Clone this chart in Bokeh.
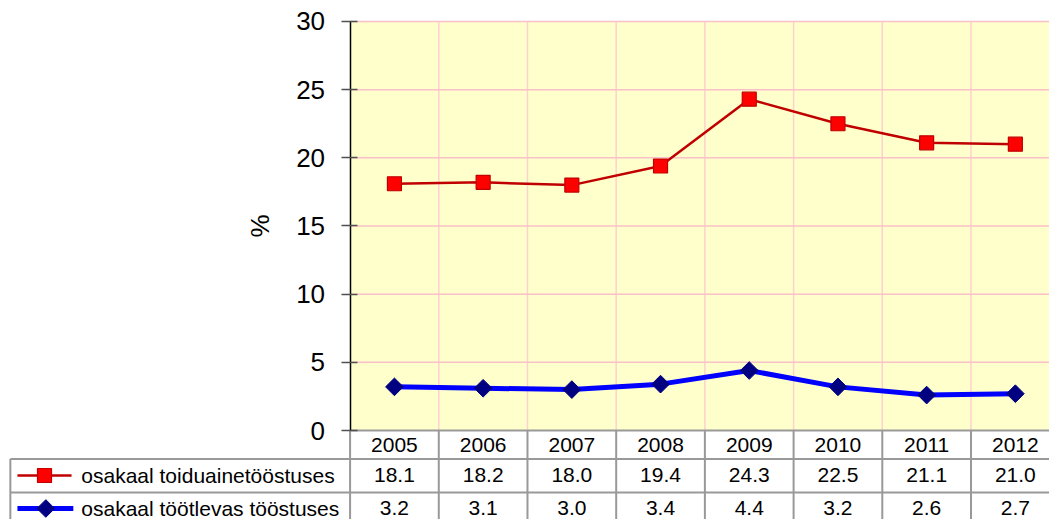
from bokeh.plotting import figure
from bokeh.models import LinearAxis, FixedTicker, Range1d, ColumnDataSource
from bokeh.core.properties import value
from bokeh.embed import file_html
from bokeh.resources import INLINE

years = ["2005", "2006", "2007", "2008", "2009", "2010", "2011", "2012"]
food = [18.1, 18.2, 18.0, 19.4, 24.3, 22.5, 21.1, 21.0]
manuf = [3.2, 3.1, 3.0, 3.4, 4.4, 3.2, 2.6, 2.7]
food_name = "osakaal toiduainetööstuses"
manuf_name = "osakaal töötlevas tööstuses"
y_ticks = [0, 5, 10, 15, 20, 25, 30]

FONT = value("Liberation Sans")
n = len(years)
xs = list(range(n))

# layout constants (in data units)
ymax = 30
ymin_plot = 0
row1_y, row2_y, row3_y = -1.03, -3.30, -5.72
line_r1, line_r2 = -2.09, -4.55
leg_left = -4.33
y_lo, y_hi = -6.528, 31.54
x_lo, x_hi = -4.441, 7.385

p = figure(width=1049, height=519, output_backend="svg", toolbar_location=None,
           x_axis_type=None, y_axis_type=None,
           x_range=Range1d(x_lo, x_hi), y_range=Range1d(y_lo, y_hi),
           min_border=0, outline_line_color=None, background_fill_color="white")

# plot area background
p.quad(left=[-0.5], right=[n - 0.5], bottom=[ymin_plot], top=[ymax],
       fill_color="#FFFFCC", line_color=None)

# vertical grid (category boundaries)
bx = [i - 0.5 for i in range(1, n + 1)]
p.segment(x0=bx, y0=[0] * len(bx), x1=bx, y1=[ymax] * len(bx),
          line_color="#FFD0D0", line_width=1.5)
# horizontal grid
gy = [t for t in y_ticks if t > 0]
p.segment(x0=[-0.5] * len(gy), y0=gy, x1=[n - 0.5] * len(gy), y1=gy,
          line_color="#F8C0C8", line_width=1.5)

# table grid
tcol = "#999999"
tx = [i - 0.5 for i in range(0, n + 1)]
p.segment(x0=tx, y0=[0] * len(tx), x1=tx, y1=[y_lo] * len(tx),
          line_color=tcol, line_width=2)
p.segment(x0=[-0.5, leg_left, leg_left], y0=[0, line_r1, line_r2],
          x1=[n - 0.5] * 3, y1=[0, line_r1, line_r2],
          line_color=tcol, line_width=2)
p.segment(x0=[leg_left], y0=[line_r1], x1=[leg_left], y1=[y_lo],
          line_color=tcol, line_width=2)

# series
p.line(xs, food, line_color="#C00000", line_width=2.5)
p.scatter(xs, food, marker="square", size=14, fill_color="#FF0000",
          line_color="#C00000", line_width=1.2)
p.line(xs, manuf, line_color="#0000FF", line_width=5)
p.scatter(xs, manuf, marker="square", angle=0.7854, size=12.5,
          fill_color="#000080", line_color="#000080")

# table text
src = ColumnDataSource(dict(x=xs, years=years,
                            food=[f"{v:.1f}" for v in food],
                            manuf=[f"{v:.1f}" for v in manuf],
                            y1=[row1_y] * n, y2=[row2_y] * n, y3=[row3_y] * n))
for col, ycol in (("years", "y1"), ("food", "y2"), ("manuf", "y3")):
    p.text(x="x", y=ycol, text=col, source=src, text_font=FONT,
           text_font_size="21px", text_align="center", text_baseline="middle",
           text_color="black")

# legend keys in table
p.segment(x0=[-4.25], y0=[row2_y], x1=[-3.64], y1=[row2_y],
          line_color="#C00000", line_width=2.5)
p.scatter([-3.945], [row2_y], marker="square", size=14, fill_color="#FF0000",
          line_color="#C00000", line_width=1.2)
p.segment(x0=[-4.25], y0=[row3_y], x1=[-3.62], y1=[row3_y],
          line_color="#0000FF", line_width=5)
p.scatter([-3.93], [row3_y], marker="square", angle=0.7854, size=12.5,
          fill_color="#000080", line_color="#000080")
p.text(x=[-3.53, -3.53], y=[row2_y, row3_y], text=[food_name, manuf_name],
       text_font=FONT, text_font_size="21px", text_align="left",
       text_baseline="middle", text_color="black")

# y axis
yaxis = LinearAxis(fixed_location=-0.5, bounds=(0, 30),
                   ticker=FixedTicker(ticks=y_ticks), axis_label="%")
yaxis.axis_line_color = "black"
yaxis.axis_line_width = 1.5
yaxis.major_tick_in = 7
yaxis.major_tick_out = 9
yaxis.major_tick_line_color = "#505050"
yaxis.major_tick_line_width = 1.5
yaxis.minor_tick_line_color = None
yaxis.major_label_standoff = 16
yaxis.major_label_text_font = "Liberation Sans"
yaxis.major_label_text_font_size = "26px"
yaxis.major_label_text_color = "black"
yaxis.axis_label_text_font = "Liberation Sans"
yaxis.axis_label_text_font_size = "26px"
yaxis.axis_label_text_font_style = "normal"
yaxis.axis_label_text_color = "black"
yaxis.axis_label_standoff = 19
p.add_layout(yaxis, "left")

open("out.html", "w").write(file_html(p, INLINE))
